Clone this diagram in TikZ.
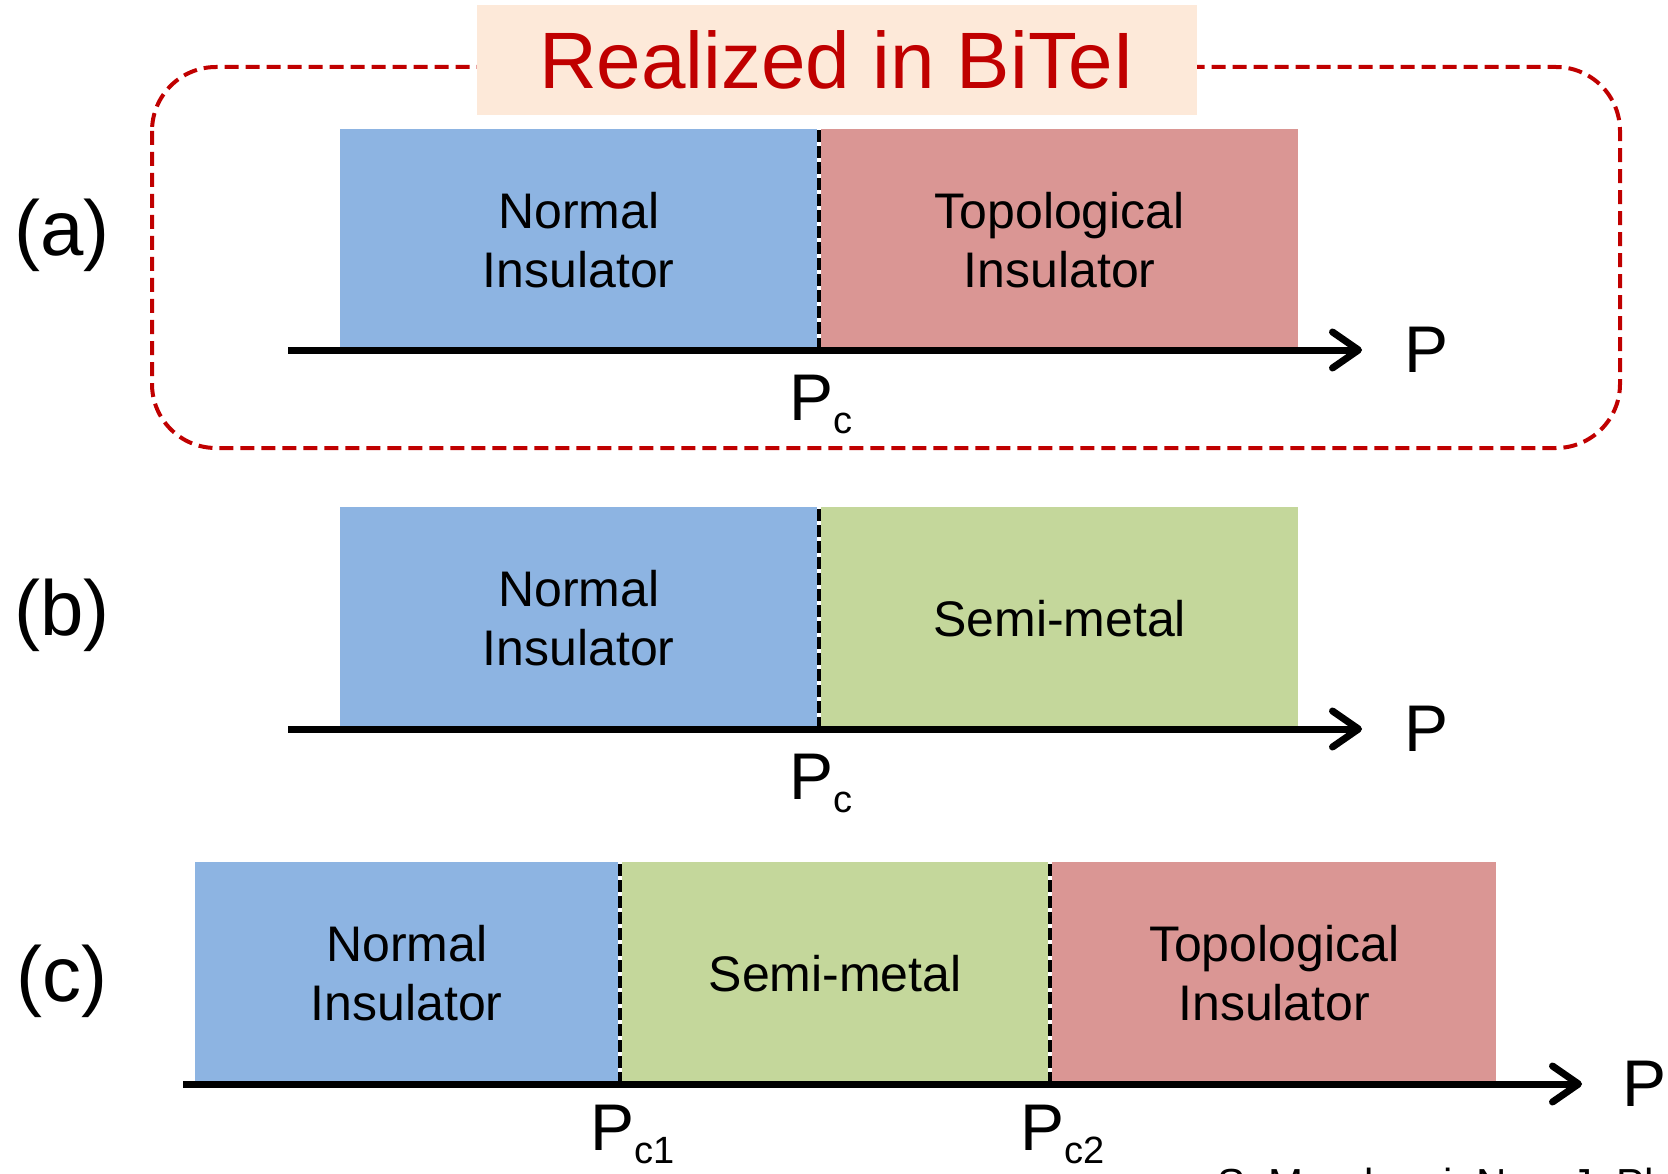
\documentclass[tikz,border=0pt]{standalone}
\usepackage{fontspec}
\setmainfont{Liberation Sans}
\usetikzlibrary{arrows.meta,positioning}
\definecolor{niblue}{RGB}{141,180,226}
\definecolor{tipink}{RGB}{218,150,148}
\definecolor{smgreen}{RGB}{196,215,155}
\definecolor{titlepeach}{RGB}{253,233,217}
\definecolor{bitered}{RGB}{192,0,0}
\newcommand{\Psub}[1]{P\raisebox{-13pt}{\fontsize{38}{38}\selectfont #1}}

\begin{document}
\begin{tikzpicture}[x=1pt, y=-1pt,
    phase/.style={anchor=north west, inner sep=0pt, minimum width=477pt, minimum height=222pt,
      align=center, font=\fontsize{50}{59}\selectfont},
    boundary/.style={line width=3.5pt, dash pattern=on 12pt off 4pt},
    axis/.style={line width=7pt, -{Straight Barb[length=26pt, width=36pt, round]}},
    plabel/.style={inner sep=0pt, font=\fontsize{66}{66}\selectfont},
    panel/.style={inner sep=0pt, font=\fontsize{78}{78}\selectfont}]
    \useasboundingbox (0,0) rectangle (1668,1174);

    % (a) frame and title
    \draw[bitered, line width=4pt, dash pattern=on 14pt off 7pt, rounded corners=64pt]
      (152,67) rectangle (1620,448);
    \node[fill=titlepeach, minimum width=720pt, minimum height=110pt, inner sep=0pt,
      text=bitered, font=\fontsize{80}{80}\selectfont] (title) at (837,60) {Realized in BiTeI};

    % (a)
    \node[panel] (lab-a) at (62,235) {(a)};
    \node[phase, fill=niblue] (ni-a) at (340,129) {Normal\\Insulator};
    \node[phase, fill=tipink] (ti-a) at (821,129) {Topological\\Insulator};
    \coordinate (pca) at (819,350);
    \draw[boundary] (pca) -- (pca |- ti-a.north);
    \coordinate (axa-start) at (288,350);
    \coordinate (axa-end) at (1362,350);
    \draw[axis] (axa-start) -- (axa-end);
    \node[plabel, right=42pt of axa-end] (p-a) {P};
    \node[plabel, anchor=base west] (pc-a) at (789,420) {\Psub{c}};

    % (b)
    \node[panel] (lab-b) at (62,615) {(b)};
    \node[phase, fill=niblue] (ni-b) at (340,507) {Normal\\Insulator};
    \node[phase, fill=smgreen] (sm-b) at (821,507) {Semi-metal};
    \coordinate (pcb) at (819,729);
    \draw[boundary] (pcb) -- (pcb |- sm-b.north);
    \coordinate (axb-start) at (288,729);
    \coordinate (axb-end) at (1362,729);
    \draw[axis] (axb-start) -- (axb-end);
    \node[plabel, right=42pt of axb-end] (p-b) {P};
    \node[plabel, anchor=base west] (pc-b) at (789,799) {\Psub{c}};

    % (c)
    \node[panel] (lab-c) at (62,981) {(c)};
    \node[phase, fill=niblue, minimum width=423pt] (ni-c) at (195,862) {Normal\\Insulator};
    \node[phase, fill=smgreen, minimum width=426pt] (sm-c) at (622,862) {Semi-metal};
    \node[phase, fill=tipink, minimum width=444pt] (ti-c) at (1052,862) {Topological\\Insulator};
    \coordinate (pc1) at (620,1084);
    \coordinate (pc2) at (1050,1084);
    \draw[boundary] (pc1) -- (pc1 |- sm-c.north);
    \draw[boundary] (pc2) -- (pc2 |- ti-c.north);
    \coordinate (axc-start) at (183,1084);
    \coordinate (axc-end) at (1582,1084);
    \draw[axis] (axc-start) -- (axc-end);
    \node[plabel, right=40pt of axc-end] (p-c) {P};
    \node[plabel, anchor=base west] (pc1-c) at (590,1150) {\Psub{c1}};
    \node[plabel, anchor=base west] (pc2-c) at (1020,1150) {\Psub{c2}};

    % reference, cut by the page edge
    \node[anchor=base west, inner sep=0pt, font=\fontsize{42}{42}\selectfont] (cite) at (1217,1198)
      {S. Murakami, New J. Phys.};
\end{tikzpicture}
\end{document}
